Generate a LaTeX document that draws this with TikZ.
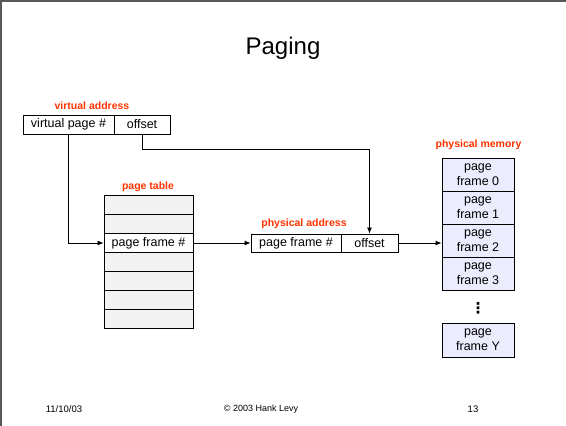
\documentclass[tikz,border=0pt]{standalone}
\usepackage{fontspec}
\setmainfont{Liberation Sans}
\newfontfamily\symfont{DejaVu Sans}
\usepackage{tikz}
\usetikzlibrary{calc,arrows.meta}
\definecolor{hot}{HTML}{FF3300}
\definecolor{framefill}{HTML}{ECECFF}
\definecolor{tablefill}{HTML}{F2F2F2}
\newcommand{\orange}[1]{\textcolor{hot}{\bfseries\fontsize{10.5}{12}\selectfont #1}}
\tikzset{
  cell/.style={draw,line width=0.8pt,inner sep=0pt,minimum height=19pt,font=\fontsize{12.5}{15}\selectfont},
  row/.style={cell,fill=tablefill,minimum width=89pt},
  frame/.style={cell,fill=framefill,minimum width=72pt,minimum height=33pt,align=center},
  link/.style={-{Latex[length=6pt,width=5pt]},line width=0.8pt}
}

\begin{document}
\begin{tikzpicture}[x=1pt,y=1pt]
    \useasboundingbox (0,0) rectangle (566,426);
    \draw[gray!70!black,line width=2pt] (1,0) -- (1,425) -- (566,425);

    \node at (283,378) [font=\fontsize{24}{28}\selectfont]{Paging};

    % virtual address
    \node at (92,320) {\orange{virtual address}};
    \node (vpn) at (68.5,301.5) [cell,minimum width=91pt]{virtual page \#};
    \node (voff) at (142,301.5) [cell,minimum width=56pt]{offset};

    % page table
    \node at (148,239) {\orange{page table}};
    \node (row1) at (148.5,221) [row]{};
    \node (row2) at (148.5,202) [row]{};
    \node (row3) at (148.5,183) [row,fill=white]{page frame \#};
    \node (row4) at (148.5,164) [row]{};
    \node (row5) at (148.5,145) [row]{};
    \node (row6) at (148.5,126) [row]{};
    \node (row7) at (148.5,107) [row]{};

    % physical address
    \node at (304,202) {\orange{physical address}};
    \node (pfn) at (296,183) [cell,minimum width=90pt,minimum height=18pt]{page frame \#};
    \node (poff) at (369.5,183) [cell,minimum width=57pt,minimum height=18pt]{offset};

    % physical memory
    \node at (478.5,281) {\orange{physical memory}};
    \node (fr0) at (478,251.5) [frame]{page\\frame 0};
    \node (fr1) at (478,218.5) [frame]{page\\frame 1};
    \node (fr2) at (478,185.5) [frame]{page\\frame 2};
    \node (fr3) at (478,152.5) [frame]{page\\frame 3};
    \node (dots) at (478,117.5) [font=\symfont\bfseries\fontsize{15}{18}\selectfont]{⋮};
    \node (frY) at (478,86) [frame,minimum height=34pt]{page\\frame Y};

    % arrows
    \draw[link] (vpn.south) |- (row3.west);
    \draw[link] (voff.south) -- ++(0,-15) -| (poff.north);
    \draw[link] (row3.east) -- (pfn.west);
    \draw[link] (poff.east) -- (poff.east -| fr2.west);

    % footer
    \node at (64,17) [font=\fontsize{9.5}{11}\selectfont]{11/10/03};
    \node at (261,17) [font=\fontsize{9}{11}\selectfont]{© 2003 Hank Levy};
    \node at (473,17) [font=\fontsize{9.5}{11}\selectfont]{13};
\end{tikzpicture}
\end{document}
